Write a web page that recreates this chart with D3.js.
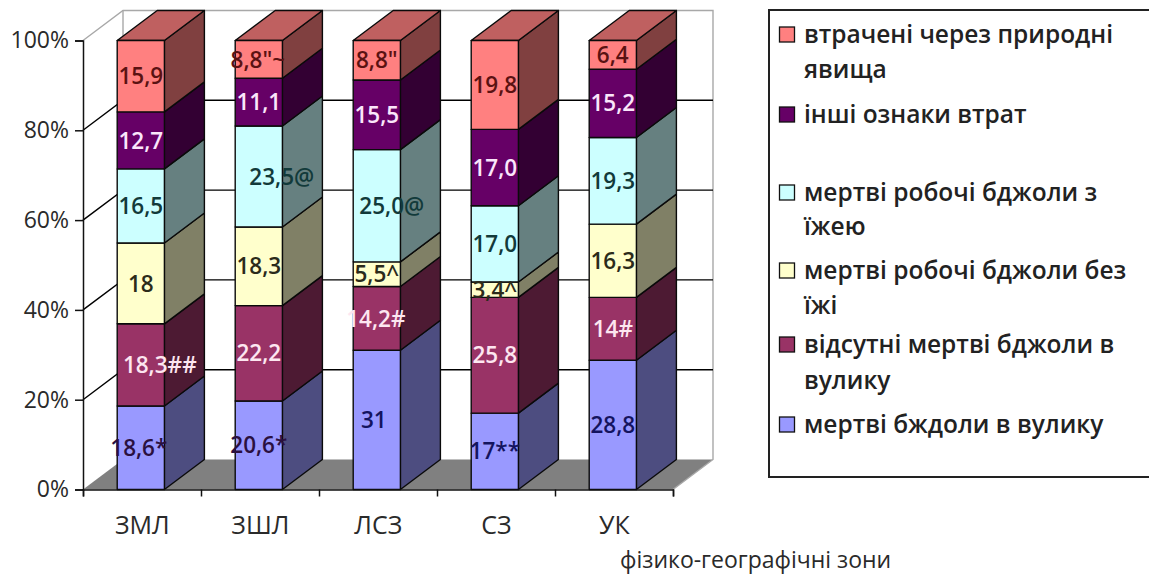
<!DOCTYPE html>
<html>
<head>
<meta charset="utf-8">
<script src="https://cdn.jsdelivr.net/npm/d3@7"></script>
<style>
  html, body { margin: 0; padding: 0; background: #fff; overflow: hidden; }
  svg { display: block; }
  text { font-family: "Open Sans", "Noto Sans", sans-serif; }
</style>
</head>
<body>
<svg id="chart" width="1149" height="576"></svg>
<script>
// Causes of bee colony losses by physical-geographic zone
const zones = ["ЗМЛ", "ЗШЛ", "ЛСЗ", "СЗ", "УК"];

const deadInHive     = [18.6, 20.6, 31, 17, 28.8];
const noDeadInHive   = [18.3, 22.2, 14.2, 25.8, 14];
const deadNoFood     = [18, 18.3, 5.5, 3.4, 16.3];
const deadWithFood   = [16.5, 23.5, 25, 17, 19.3];
const otherSigns     = [12.7, 11.1, 15.5, 17, 15.2];
const naturalCauses  = [15.9, 8.8, 8.8, 19.8, 6.4];

const deadInHiveLabels    = ["18,6*", "20,6*", "31", "17**", "28,8"];
const noDeadInHiveLabels  = ["18,3##", "22,2", "14,2#", "25,8", "14#"];
const deadNoFoodLabels    = ["18", "18,3", "5,5^", "3,4^", "16,3"];
const deadWithFoodLabels  = ["16,5", "23,5@", "25,0@", "17,0", "19,3"];
const otherSignsLabels    = ["12,7", "11,1", "15,5", "17,0", "15,2"];
const naturalCausesLabels = ["15,9", "8,8\"~", "8,8\"", "19,8", "6,4"];

const seriesNames = [
  ["мертві бждоли в вулику"],
  ["відсутні мертві бджоли в", "вулику"],
  ["мертві робочі бджоли без", "їжі"],
  ["мертві робочі бджоли з", "їжею"],
  ["інші ознаки втрат"],
  ["втрачені через природні", "явища"]
];
const seriesValues = [deadInHive, noDeadInHive, deadNoFood, deadWithFood, otherSigns, naturalCauses];
const seriesLabels = [deadInHiveLabels, noDeadInHiveLabels, deadNoFoodLabels, deadWithFoodLabels, otherSignsLabels, naturalCausesLabels];

const frontColors = ["#9999ff", "#993366", "#ffffcc", "#ccffff", "#660066", "#ff8080"];
const sideColors  = ["#4d4d80", "#4d1a33", "#808066", "#668080", "#330033", "#804040"];
const labelColors = ["#14145f", "#fde6f0", "#2b2b1a", "#123a3a", "#fbe6fb", "#5a1212"];
const topFace = "#bf6060";

const yTicks = [0, 0.2, 0.4, 0.6, 0.8, 1];

// Per-label nudges for the annotated values that sit off the column centre
const labelNudge = { "18,3##": 19, "23,5@": 23, "25,0@": 15, "18,6*": -2, "31": -3, "14,2#": -1, "8,8\"~": -1 };
// The two labels that spill past the column edge are set darker
const labelColorOverride = { "18,6*": "#2a1040", "20,6*": "#2a1040" };

const depthX = 40, depthY = 30;
const frameLeft = 83, frameRight = 673;
const svg = d3.select("#chart");

const x = d3.scaleBand().domain(zones).range([frameLeft - 1.2, frameRight - 1.2]).paddingInner(0.6).paddingOuter(0.3);
const y = d3.scaleLinear().domain([0, 1]).range([489.5, 40.5]);
const xTickScale = d3.scaleLinear().domain([0, zones.length]).range([frameLeft, frameRight]);

const rows = zones.map((z, i) => {
  const row = { zone: z };
  seriesValues.forEach((s, k) => { row[k] = s[i]; });
  return row;
});
const stacked = d3.stack().keys(seriesValues.map((_, k) => k)).offset(d3.stackOffsetExpand)(rows);

const poly = pts => pts.map(p => p.join(",")).join(" ");
const x0 = frameLeft, x1 = frameRight;
const yBase = y(0), yTop = y(1);

// Walls and floor of the 3D frame
const frame = svg.append("g");
frame.append("polygon")
  .attr("points", poly([[x0, yBase], [x0 + depthX, yBase - depthY], [x1 + depthX, yBase - depthY], [x1, yBase]]))
  .attr("fill", "#808080");
frame.append("path")
  .attr("d", `M${x0},${yTop}L${x0 + depthX},${yTop - depthY}H${x1 + depthX}V${yBase - depthY}L${x1},${yBase}`)
  .attr("fill", "none").attr("stroke", "#a8a8a8").attr("stroke-width", 1.4);
frame.append("line")
  .attr("x1", x0 + depthX).attr("x2", x0 + depthX)
  .attr("y1", yTop - depthY).attr("y2", yBase - depthY)
  .attr("stroke", "#a8a8a8").attr("stroke-width", 1.4);

yTicks.filter(t => t > 0 && t < 1).forEach(t => {
  frame.append("path")
    .attr("d", `M${x0},${y(t)}L${x0 + depthX},${y(t) - depthY}H${x1 + depthX}`)
    .attr("fill", "none").attr("stroke", "#000").attr("stroke-width", 1.4);
});

// Columns: each segment has a front and a side face, the top segment also a lid
const columns = svg.append("g");
stacked.forEach((layer, k) => {
  layer.forEach((d, i) => {
    const left = x(zones[i]), right = left + x.bandwidth();
    const hi = y(d[1]), lo = y(d[0]);
    const g = columns.append("g")
      .attr("stroke", "#0a0a0a").attr("stroke-width", 1.4).attr("stroke-linejoin", "round");
    g.append("polygon")
      .attr("points", poly([[right, lo], [right + depthX, lo - depthY], [right + depthX, hi - depthY], [right, hi]]))
      .attr("fill", sideColors[k]);
    if (k === stacked.length - 1) {
      g.append("polygon")
        .attr("points", poly([[left, hi], [left + depthX, hi - depthY], [right + depthX, hi - depthY], [right, hi]]))
        .attr("fill", topFace);
    }
    g.append("rect")
      .attr("x", left).attr("y", hi)
      .attr("width", x.bandwidth()).attr("height", lo - hi)
      .attr("fill", frontColors[k]);
  });
});

// Axes
const yAxis = svg.append("g").attr("transform", `translate(${x0},0)`)
  .call(d3.axisLeft(y).tickValues(yTicks).tickFormat(d3.format(".0%")).tickSize(8).tickPadding(6));
yAxis.selectAll("text").attr("font-size", 23).attr("fill", "#2a2a2a");

const xTickAxis = svg.append("g").attr("transform", `translate(0,${yBase})`)
  .call(d3.axisBottom(xTickScale).ticks(zones.length).tickFormat("").tickSize(7));

const xLabelAxis = svg.append("g").attr("transform", `translate(1.5,${yBase})`)
  .call(d3.axisBottom(x).tickSize(0).tickPadding(27));
xLabelAxis.select(".domain").remove();
xLabelAxis.selectAll("text").attr("font-size", 25).attr("font-weight", 500).attr("fill", "#2a2a2a");

[yAxis, xTickAxis].forEach(a => a.selectAll(".domain, line").attr("stroke", "#111").attr("stroke-width", 1.5));

svg.append("text")
  .attr("x", 620).attr("y", 568)
  .attr("font-size", 23).attr("fill", "#2a2a2a")
  .text("фізико-географічні зони");

// Value labels
const labels = svg.append("g");
stacked.forEach((layer, k) => {
  layer.forEach((d, i) => {
    const text = seriesLabels[k][i];
    labels.append("text")
      .attr("x", x(zones[i]) + x.bandwidth() / 2 + (labelNudge[text] || 0))
      .attr("y", (y(d[0]) + y(d[1])) / 2)
      .attr("dy", "0.36em")
      .attr("text-anchor", "middle")
      .attr("font-size", 22.5)
      .attr("font-weight", 600)
      .attr("fill", labelColorOverride[text] || labelColors[k])
      .text(text);
  });
});

// Legend
const legend = svg.append("g");
legend.append("rect")
  .attr("x", 769).attr("y", 10).attr("width", 400).attr("height", 467)
  .attr("fill", "#fff").attr("stroke", "#222").attr("stroke-width", 2);

const legendCentres = [425, 345, 271, 193, 115, 35];
const legendLineGap = [0, 36, 35, 34, 0, 35];
seriesNames.forEach((lines, k) => {
  const cy = legendCentres[k];
  legend.append("rect")
    .attr("x", 779.5).attr("y", cy - 8).attr("width", 15).attr("height", 15)
    .attr("fill", frontColors[k]).attr("stroke", "#111").attr("stroke-width", 1.3);
  lines.forEach((line, j) => {
    legend.append("text")
      .attr("x", 804).attr("y", cy + j * legendLineGap[k])
      .attr("dy", "0.32em")
      .attr("font-size", 24.5).attr("font-weight", 600).attr("fill", "#222")
      .text(line);
  });
});
</script>
</body>
</html>
